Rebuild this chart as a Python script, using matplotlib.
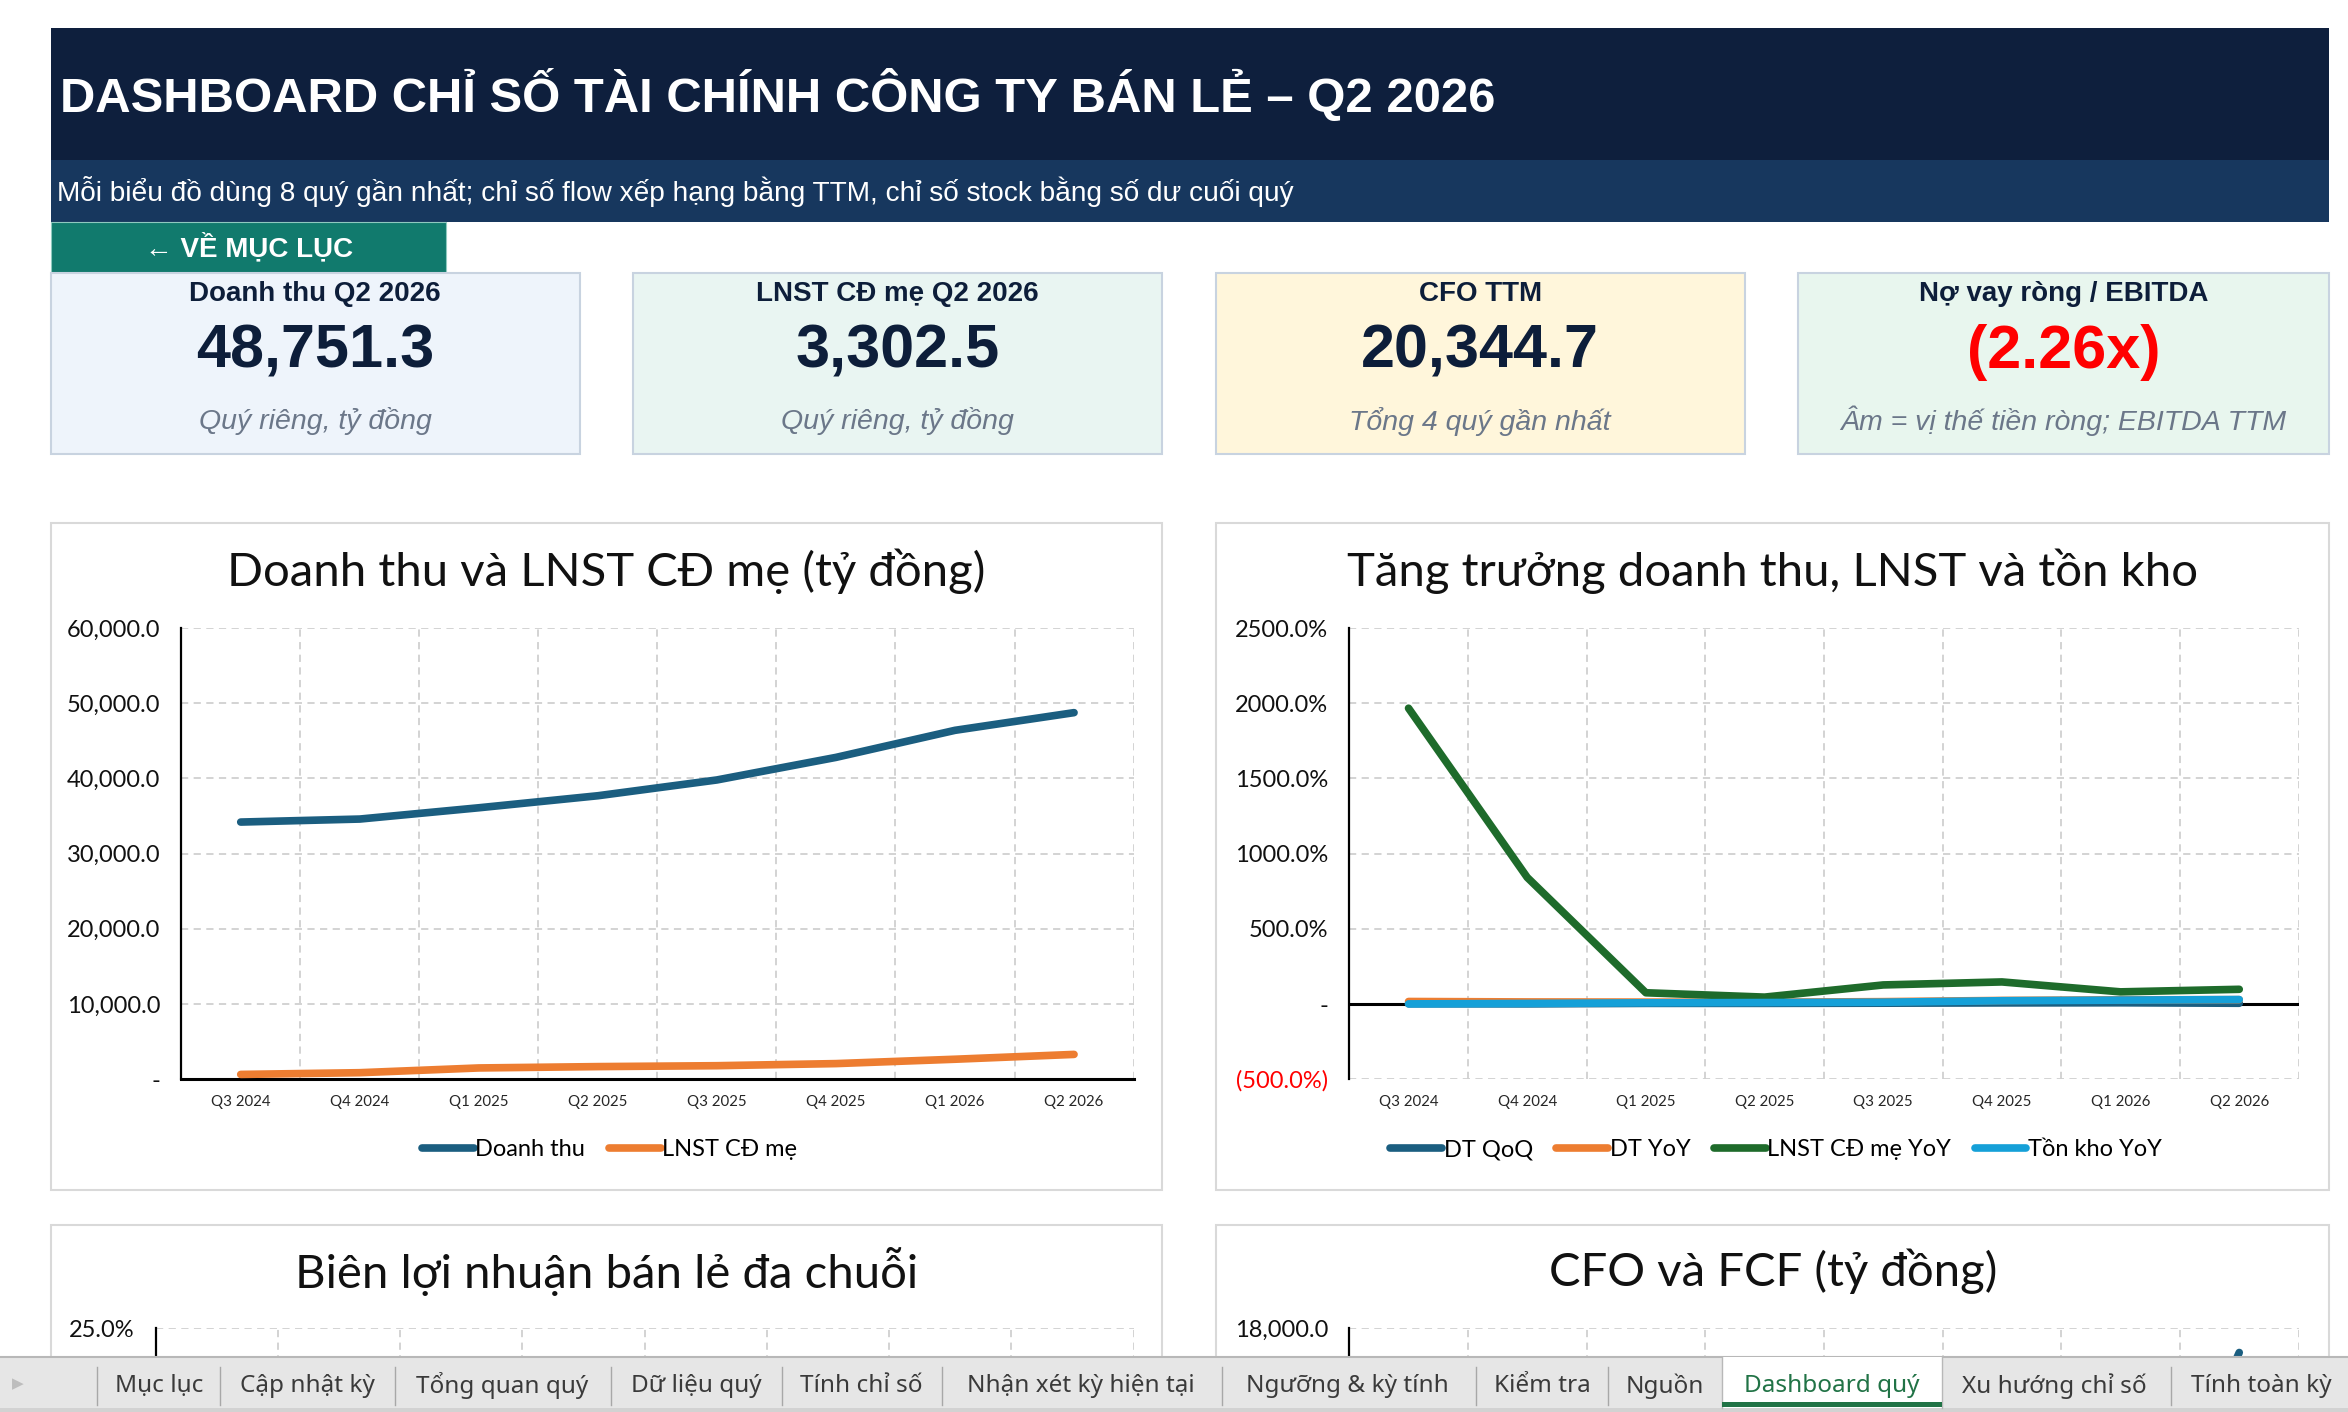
import matplotlib
matplotlib.use("Agg")
import matplotlib.pyplot as plt
from matplotlib.patches import Rectangle
import numpy as np

# ---------------- data ----------------
quarters = ["Q3 2024", "Q4 2024", "Q1 2025", "Q2 2025", "Q3 2025", "Q4 2025", "Q1 2026", "Q2 2026"]
doanh_thu = [34200, 34600, 36100, 37700, 39800, 42800, 46400, 48751.3]
lnst_cd_me = [640, 870, 1500, 1680, 1800, 2080, 2660, 3302.5]
dt_qoq = [2.0, 1.2, 4.3, 4.4, 5.6, 7.5, 8.4, 5.1]
dt_yoy = [17.0, 14.0, 13.0, 12.0, 16.0, 24.0, 28.0, 29.0]
lnst_yoy = [1967.0, 842.0, 75.0, 46.0, 127.0, 147.0, 81.0, 98.0]
ton_kho_yoy = [1.0, 4.0, 8.0, 10.0, 12.0, 22.0, 26.0, 30.0]
bien_ln_gop = [21.5, 21.8, 22.0, 22.1, 22.3, 22.0, 22.4, 22.6]
bien_ebitda = [8.1, 8.3, 8.6, 8.7, 8.8, 8.9, 9.2, 9.5]
bien_lnst = [1.9, 2.5, 4.2, 4.5, 4.5, 4.9, 5.7, 6.8]
cfo = [2100, -1500, 900, 8200, 1800, -400, 2244.7, 16700]
fcf = [900, -2600, -300, 7000, 600, -1600, 1000, 15500]

kpi_titles = ["Doanh thu Q2 2026", "LNST CĐ mẹ Q2 2026", "CFO TTM", "Nợ vay ròng / EBITDA"]
kpi_values = [48751.3, 3302.5, 20344.7, -2.26]
kpi_notes = ["Quý riêng, tỷ đồng", "Quý riêng, tỷ đồng", "Tổng 4 quý gần nhất",
             "Âm = vị thế tiền ròng; EBITDA TTM"]
tab_names = ["Mục lục", "Cập nhật kỳ", "Tổng quan quý", "Dữ liệu quý", "Tính chỉ số",
             "Nhận xét kỳ hiện tại", "Ngưỡng & kỳ tính", "Kiểm tra", "Nguồn",
             "Dashboard quý", "Xu hướng chỉ số", "Tính toàn kỳ"]
active_tab = "Dashboard quý"

title_text = "DASHBOARD CHỈ SỐ TÀI CHÍNH CÔNG TY BÁN LẺ – Q2 2026"
subtitle_text = ("Mỗi biểu đồ dùng 8 quý gần nhất; chỉ số flow xếp hạng bằng TTM, "
                 "chỉ số stock bằng số dư cuối quý")

# ---------------- layout helpers ----------------
W, H = 1568.0, 942.0
HDR = ["Liberation Sans", "DejaVu Sans"]
CHT = ["Lato", "Noto Sans", "DejaVu Sans"]
TAB = ["Noto Sans", "DejaVu Sans"]

fig = plt.figure(figsize=(23.48, 14.12), dpi=100)
fig.patch.set_facecolor("white")


def rect(x1, y1, x2, y2):
    return [x1 / W, 1 - y2 / H, (x2 - x1) / W, (y2 - y1) / H]


def box(ax, x1, y1, x2, y2, fc, ec="none", lw=0.0, z=1):
    ax.add_patch(Rectangle((x1, y1), x2 - x1, y2 - y1, facecolor=fc,
                           edgecolor=ec, linewidth=lw, zorder=z))


bg = fig.add_axes([0, 0, 1, 1], zorder=0)
bg.set_xlim(0, W)
bg.set_ylim(H, 0)
bg.axis("off")

# header
box(bg, 34, 19, 1555, 107, "#0E1F3D")
bg.text(40, 64, title_text, color="white", fontsize=35.3, fontweight="bold",
        family=HDR, ha="left", va="center")
box(bg, 34, 107, 1555, 148, "#17375E")
bg.text(38, 128, subtitle_text, color="white", fontsize=20.2, family=HDR,
        ha="left", va="center")
box(bg, 34, 148, 298, 182, "#117A6D", ec="#8FC9BF", lw=0.8)
bg.text(166, 165.5, "← VỀ MỤC LỤC", color="white", fontsize=20, fontweight="bold",
        family=HDR, ha="center", va="center")

# KPI cards
card_x = [(34, 387), (423, 776), (812, 1165), (1201, 1555)]
card_fc = ["#EEF4FB", "#E9F5F2", "#FFF6DB", "#E8F6EE"]
for i, (x1, x2) in enumerate(card_x):
    box(bg, x1, 182, x2, 303, card_fc[i], ec="#C8D3E0", lw=1.5)
    cx = (x1 + x2) / 2
    bg.text(cx, 196, kpi_titles[i], color="#0D1E3A", fontsize=20, fontweight="bold",
            family=HDR, ha="center", va="center")
    v = kpi_values[i]
    if i == 3:
        vs = f"({abs(v):.2f}x)" if v < 0 else f"{v:.2f}x"
        vc = "#FF0000" if v < 0 else "#0D1E3A"
    else:
        vs = f"{v:,.1f}"
        vc = "#0D1E3A"
    bg.text(cx, 235, vs, color=vc, fontsize=44, fontweight="bold", family=HDR,
            ha="center", va="center")
    bg.text(cx, 281, kpi_notes[i], color="#6B7789", fontsize=20.5, style="italic",
            family=HDR, ha="center", va="center")

# chart frames and titles
frames = [(34, 349, 776, 794), (812, 349, 1555, 794), (34, 817, 776, 1100), (812, 817, 1555, 1100)]
for (x1, y1, x2, y2) in frames:
    box(bg, x1, y1, x2, y2, "white", ec="#D9D9D9", lw=1.5)
chart_titles = ["Doanh thu và LNST CĐ mẹ (tỷ đồng)", "Tăng trưởng doanh thu, LNST và tồn kho",
                "Biên lợi nhuận bán lẻ đa chuỗi", "CFO và FCF (tỷ đồng)"]
title_pos = [(405, 381), (1184, 381), (405, 848), (1184, 848)]
for t, (tx, ty) in zip(chart_titles, title_pos):
    bg.text(tx, ty, t, color="#111111", fontsize=34, family=CHT, ha="center", va="center")

x = np.arange(len(quarters))
GRID = dict(color="#D0D0D0", linewidth=1.3, linestyle=(0, (4, 3)))
LW = 5.5


def style_axes(ax, yticks, ylabels, bottom_spine=True, xlabels=True):
    ax.set_facecolor("none")
    ax.set_xlim(-0.5, len(quarters) - 0.5)
    ax.set_xticks(x)
    if xlabels:
        ax.set_xticklabels(quarters, fontsize=10.8, family=CHT, color="#262626")
    else:
        ax.tick_params(axis="x", labelbottom=False)
    ax.set_xticks(np.arange(-0.5, len(quarters), 1.0), minor=True)
    ax.set_yticks(yticks)
    ax.set_yticklabels(ylabels, fontsize=17, family=CHT, color="#111111")
    ax.tick_params(axis="both", which="both", length=0)
    ax.tick_params(axis="y", pad=15)
    ax.tick_params(axis="x", pad=11)
    ax.grid(which="minor", axis="x", **GRID)
    ax.grid(which="major", axis="y", **GRID)
    ax.grid(which="major", axis="x", visible=False)
    ax.set_axisbelow(True)
    for s in ("top", "right"):
        ax.spines[s].set_visible(False)
    ax.spines["left"].set_color("black")
    ax.spines["left"].set_linewidth(1.6)
    if bottom_spine:
        ax.spines["bottom"].set_color("black")
        ax.spines["bottom"].set_linewidth(2.2)
    else:
        ax.spines["bottom"].set_visible(False)


def line(ax, y, c, lab, z=3):
    ax.plot(x, y, color=c, lw=LW, solid_capstyle="round", solid_joinstyle="round",
            label=lab, zorder=z)


def legend(ax, cx, cy, ncol):
    ax.legend(loc="center", bbox_to_anchor=(cx / W, 1 - cy / H), bbox_transform=fig.transFigure,
              ncol=ncol, frameon=False, handlelength=2.2, handletextpad=0.05,
              columnspacing=1.0, prop={"family": CHT, "size": 17})


C_NAVY = "#1B5E80"
C_ORANGE = "#ED7D31"
C_GREEN = "#1E6B2B"
C_CYAN = "#15A0D8"

# chart 1
ax1 = fig.add_axes(rect(121, 419, 757, 720), zorder=2)
t1 = list(range(0, 60001, 10000))
style_axes(ax1, t1, ["-" if v == 0 else f"{v:,.1f}" for v in t1])
ax1.set_ylim(0, 60000)
line(ax1, doanh_thu, C_NAVY, "Doanh thu")
line(ax1, lnst_cd_me, C_ORANGE, "LNST CĐ mẹ")
legend(ax1, 407, 767, 2)

# chart 2
ax2 = fig.add_axes(rect(901, 419, 1535, 720), zorder=2)
t2 = list(range(-500, 2501, 500))
lab2 = []
for v in t2:
    if v == 0:
        lab2.append("-")
    elif v < 0:
        lab2.append(f"({abs(v):.1f}%)")
    else:
        lab2.append(f"{v:.1f}%")
style_axes(ax2, t2, lab2, bottom_spine=False)
ax2.set_ylim(-500, 2500)
for tl, v in zip(ax2.get_yticklabels(), t2):
    if v < 0:
        tl.set_color("#FF0000")
ax2.axhline(0, color="black", lw=2.2, zorder=2)
line(ax2, dt_qoq, C_NAVY, "DT QoQ")
line(ax2, dt_yoy, C_ORANGE, "DT YoY")
line(ax2, lnst_yoy, C_GREEN, "LNST CĐ mẹ YoY")
line(ax2, ton_kho_yoy, C_CYAN, "Tồn kho YoY")
legend(ax2, 1186, 767, 4)

# chart 3 (only its top strip is visible above the sheet tabs)
ax3 = fig.add_axes(rect(104, 886, 757, 1187), zorder=2)
style_axes(ax3, [25], ["25.0%"], xlabels=False)
ax3.set_ylim(0, 25)
line(ax3, bien_ln_gop, C_NAVY, "Biên LN gộp")
line(ax3, bien_ebitda, C_ORANGE, "Biên EBITDA")
line(ax3, bien_lnst, C_GREEN, "Biên LNST")

# chart 4 (only its top strip is visible above the sheet tabs)
ax4 = fig.add_axes(rect(901, 886, 1535, 1187), zorder=2)
style_axes(ax4, [18000], ["18,000.0"], xlabels=False)
ax4.set_ylim(-6000, 18000)
line(ax4, cfo, C_NAVY, "CFO")
line(ax4, fcf, C_ORANGE, "FCF")

# ---------------- sheet tab bar (overlay) ----------------
tb = fig.add_axes([0, 0, 1, 1], zorder=10)
tb.set_xlim(0, W)
tb.set_ylim(H, 0)
tb.axis("off")
tb.patch.set_alpha(0)
box(tb, 0, 905, W, 942, "#E6E6E6", z=1)
tb.plot([0, W], [905, 905], color="#B8B8B8", lw=1.5, zorder=2)
box(tb, 0, 939, W, 942, "#D2D2D2", z=2)
tb.text(12, 923, "▶", color="#BDBDBD", fontsize=11, family=["DejaVu Sans"], ha="center", va="center")

tab_centers = [106, 205, 335, 465, 575, 722, 900, 1030, 1112, 1223, 1372, 1510]
tab_seps = [65, 147, 264, 408, 522, 629, 816, 986, 1074, 1450]
for sx in tab_seps:
    tb.plot([sx, sx], [912, 937], color="#A8A8A8", lw=1.0, zorder=3)
box(tb, 1150, 905, 1297, 939, "white", z=3)
tb.plot([1150, 1150], [905, 939], color="#B8B8B8", lw=1.0, zorder=4)
tb.plot([1297, 1297], [905, 939], color="#B8B8B8", lw=1.0, zorder=4)
box(tb, 1150, 935.5, 1297, 938.5, "#217346", z=4)
for name, cx in zip(tab_names, tab_centers):
    if name == active_tab:
        tb.text(cx, 924.5, name, color="#217346", fontsize=17.5, fontweight="bold",
                family=TAB, ha="center", va="center", zorder=5)
    else:
        tb.text(cx, 924.5, name, color="#3A3A3A", fontsize=17.5, family=TAB,
                ha="center", va="center", zorder=5)

fig.savefig("out.png", dpi=100, facecolor="white")
